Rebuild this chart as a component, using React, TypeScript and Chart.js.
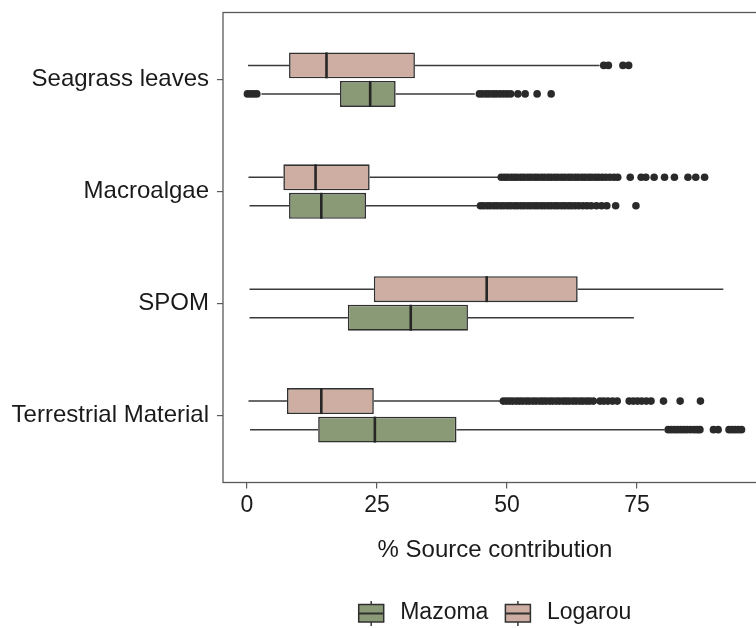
import React, { useEffect, useRef } from 'react';
import { Chart, registerables } from 'chart.js';

Chart.register(...registerables);

// ---------- data ----------
const categories = ['Seagrass leaves', 'Macroalgae', 'SPOM', 'Terrestrial Material'];
const categoryPositions = [1, 2, 3, 4];
const xTicks = [0, 25, 50, 75];
const xTitle = '% Source contribution';

// Logarou (pink)
const logarouLow = [0.2, 0.3, 0.5, 0.3];
const logarouQ1 = [8.1, 7.0, 24.4, 7.7];
const logarouMedian = [15.3, 13.2, 46.1, 14.3];
const logarouQ3 = [32.3, 23.6, 63.6, 24.4];
const logarouHigh = [67.8, 48.4, 91.6, 48.8];
const logarouOutSeagrass = [68.6, 69.5, 72.3, 73.4];
const logarouOutMacroalgae = [
  48.9, 49.5, 50.1, 50.8, 51.4, 52.0, 52.7, 53.3, 54.0, 54.6, 55.3, 55.9, 56.6, 57.2, 57.9,
  58.5, 59.2, 59.8, 60.5, 61.1, 61.8, 62.4, 63.1, 63.7, 64.4, 65.0, 65.7, 66.3, 67.0, 67.6,
  68.3, 69.0, 69.8, 70.6, 71.3, 73.7, 75.8, 76.7, 78.3, 80.3, 82.2, 84.8, 86.3, 88.0,
];
const logarouOutSPOM: number[] = [];
const logarouOutTerrestrial = [
  49.3, 49.9, 50.5, 51.1, 51.8, 52.4, 53.0, 53.7, 54.3, 55.0, 55.6, 56.3, 56.9, 57.5, 58.2,
  58.8, 59.5, 60.1, 60.8, 61.4, 62.0, 62.7, 63.3, 64.0, 64.6, 65.3, 65.9, 66.6, 67.9, 68.6,
  69.4, 70.3, 71.2, 73.5, 74.3, 75.1, 75.9, 76.8, 77.7, 80.1, 83.3, 87.2,
];

// Mazoma (green)
const mazomaLow = [2.8, 0.5, 0.5, 0.6];
const mazomaQ1 = [17.9, 8.1, 19.4, 13.7];
const mazomaMedian = [23.7, 14.3, 31.5, 24.6];
const mazomaQ3 = [28.6, 22.9, 42.5, 40.3];
const mazomaHigh = [43.8, 44.4, 74.4, 80.3];
const mazomaOutSeagrass = [
  0.1, 0.7, 1.3, 1.9, 44.7, 45.3, 46.0, 46.6, 47.3, 47.9, 48.6, 49.3, 50.0, 50.7, 52.1, 53.5,
  55.8, 58.5,
];
const mazomaOutMacroalgae = [
  44.9, 45.5, 46.2, 46.8, 47.5, 48.1, 48.8, 49.4, 50.1, 50.7, 51.4, 52.0, 52.7, 53.3, 54.0,
  54.6, 55.3, 55.9, 56.6, 57.2, 57.9, 58.5, 59.2, 59.8, 60.5, 61.1, 61.8, 62.4, 63.1, 63.8,
  64.6, 65.4, 66.2, 67.2, 68.2, 69.2, 70.9, 74.8,
];
const mazomaOutSPOM: number[] = [];
const mazomaOutTerrestrial = [
  81.0, 81.6, 82.2, 82.8, 83.4, 84.0, 84.6, 85.3, 86.0, 86.6, 87.1, 89.7, 90.6, 92.7, 93.3,
  93.9, 94.5, 95.1,
];

const seriesNames = ['Logarou', 'Mazoma'];
const legendOrder = ['Mazoma', 'Logarou'];

// ---------- styles ----------
const FONT = '"Liberation Sans", Arial, Helvetica, sans-serif';
const TEXT = '#1a1a1a';
const AXIS = '#5a5a5a';
const EDGE = '#303030';
const COLORS: Record<string, string> = { Logarou: '#ceaea2', Mazoma: '#8a9a76' };

const series = [
  {
    name: seriesNames[0],
    low: logarouLow, q1: logarouQ1, median: logarouMedian, q3: logarouQ3, high: logarouHigh,
    outliers: [logarouOutSeagrass, logarouOutMacroalgae, logarouOutSPOM, logarouOutTerrestrial],
  },
  {
    name: seriesNames[1],
    low: mazomaLow, q1: mazomaQ1, median: mazomaMedian, q3: mazomaQ3, high: mazomaHigh,
    outliers: [mazomaOutSeagrass, mazomaOutMacroalgae, mazomaOutSPOM, mazomaOutTerrestrial],
  },
];

const boxPlugin = {
  id: 'boxExtras',
  beforeDatasetsDraw(chart: any) {
    const ctx = chart.ctx;
    const xs = chart.scales.x;
    ctx.save();
    ctx.strokeStyle = '#3a3a3a';
    ctx.lineWidth = 1.5;
    series.forEach((s, d) => {
      const meta = chart.getDatasetMeta(d);
      meta.data.forEach((bar: any, i: number) => {
        const y = bar.y;
        ctx.beginPath();
        ctx.moveTo(xs.getPixelForValue(s.low[i]), y);
        ctx.lineTo(xs.getPixelForValue(s.q1[i]), y);
        ctx.moveTo(xs.getPixelForValue(s.q3[i]), y);
        ctx.lineTo(xs.getPixelForValue(s.high[i]), y);
        ctx.stroke();
      });
    });
    ctx.restore();
  },
  afterDatasetsDraw(chart: any) {
    const ctx = chart.ctx;
    const xs = chart.scales.x;
    ctx.save();
    series.forEach((s, d) => {
      const meta = chart.getDatasetMeta(d);
      meta.data.forEach((bar: any, i: number) => {
        const y = bar.y;
        const h = bar.height;
        const mx = xs.getPixelForValue(s.median[i]);
        ctx.strokeStyle = '#262626';
        ctx.lineWidth = 2.6;
        ctx.beginPath();
        ctx.moveTo(mx, y - h / 2);
        ctx.lineTo(mx, y + h / 2);
        ctx.stroke();
        ctx.fillStyle = '#2a2a2a';
        s.outliers[i].forEach((v) => {
          ctx.beginPath();
          ctx.arc(xs.getPixelForValue(v), y, 3.8, 0, Math.PI * 2);
          ctx.fill();
        });
      });
    });
    ctx.restore();
  },
  afterDraw(chart: any) {
    const ctx = chart.ctx;
    const a = chart.chartArea;
    ctx.save();
    // panel border
    ctx.strokeStyle = AXIS;
    ctx.lineWidth = 1.3;
    ctx.strokeRect(a.left, a.top, a.right - a.left, a.bottom - a.top);

    // legend
    ctx.font = `23px ${FONT}`;
    ctx.textBaseline = 'middle';
    const keyW = 25;
    const keyGap = 16.5;
    const itemGap = 17;
    const widths = legendOrder.map((n) => ctx.measureText(n).width);
    const total =
      widths.reduce((acc, w) => acc + keyW + keyGap + w, 0) + itemGap * (legendOrder.length - 1);
    let x = (a.left + a.right) / 2 - total / 2;
    const cy = 613;
    legendOrder.forEach((name, k) => {
      const cx = x + keyW / 2;
      ctx.strokeStyle = '#3a3a3a';
      ctx.lineWidth = 1.5;
      ctx.beginPath();
      ctx.moveTo(cx, cy - 12);
      ctx.lineTo(cx, cy + 13);
      ctx.stroke();
      ctx.fillStyle = COLORS[name];
      ctx.fillRect(x, cy - 8.5, keyW, 17.5);
      ctx.strokeStyle = EDGE;
      ctx.strokeRect(x, cy - 8.5, keyW, 17.5);
      ctx.lineWidth = 2;
      ctx.beginPath();
      ctx.moveTo(x, cy + 0.5);
      ctx.lineTo(x + keyW, cy + 0.5);
      ctx.stroke();
      ctx.fillStyle = TEXT;
      ctx.textAlign = 'left';
      ctx.fillText(name, x + keyW + keyGap, cy);
      x += keyW + keyGap + widths[k] + itemGap;
    });
    ctx.restore();
  },
};

export default function App() {
  const ref = useRef<HTMLCanvasElement>(null);

  useEffect(() => {
    document.body.style.margin = '0';
    const canvas = ref.current;
    if (!canvas) return;
    const chart = new Chart(canvas, {
      type: 'bar',
      data: {
        datasets: series.map((s) => ({
          label: s.name,
          data: categoryPositions.map((p, i) => ({ y: p, x: [s.q1[i], s.q3[i]] })),
          backgroundColor: COLORS[s.name],
          borderColor: EDGE,
          borderWidth: 1.6,
          borderSkipped: false,
          categoryPercentage: 0.51,
          barPercentage: 0.91,
        })) as any,
      },
      options: {
        indexAxis: 'y',
        responsive: false,
        animation: false,
        devicePixelRatio: 1,
        layout: { padding: { top: 12.5, right: 1, bottom: 0, left: 0 } },
        plugins: {
          legend: { display: false },
          tooltip: { enabled: false },
        },
        scales: {
          y: {
            type: 'linear',
            reverse: true,
            min: 0.4,
            max: 4.6,
            offset: false,
            afterBuildTicks: (scale: any) => {
              scale.ticks = categoryPositions.map((v) => ({ value: v }));
            },
            afterFit: (scale: any) => {
              scale.width = 223;
              scale.paddingTop = 0;
              scale.paddingBottom = 0;
            },
            ticks: {
              callback: (v: any) => {
                const idx = categoryPositions.indexOf(Number(v));
                return idx >= 0 ? categories[idx] : '';
              },
              font: { family: FONT, size: 24 },
              color: TEXT,
              padding: 8,
            },
            grid: {
              offset: false,
              drawOnChartArea: false,
              drawTicks: true,
              tickLength: 6,
              color: AXIS,
              lineWidth: 1.2,
            },
            border: { display: false },
          },
          x: {
            type: 'linear',
            min: -4.6,
            max: 100,
            afterBuildTicks: (scale: any) => {
              scale.ticks = xTicks.map((v) => ({ value: v }));
            },
            afterFit: (scale: any) => {
              scale.height = 628 - 482.5;
              scale.paddingLeft = 0;
              scale.paddingRight = 0;
            },
            ticks: {
              callback: (v: any) => String(v),
              font: { family: FONT, size: 23 },
              color: TEXT,
              padding: 3,
              maxRotation: 0,
            },
            grid: {
              drawOnChartArea: false,
              drawTicks: true,
              tickLength: 6,
              color: AXIS,
              lineWidth: 1.2,
            },
            border: { display: false },
            title: {
              display: true,
              text: xTitle,
              font: { family: FONT, size: 24 },
              color: TEXT,
              padding: { top: 0, bottom: 63.6 },
            },
          },
        },
      } as any,
      plugins: [boxPlugin],
    });
    return () => chart.destroy();
  }, []);

  return (
    <div style={{ width: 756, height: 628, overflow: 'hidden', position: 'relative' }}>
      <canvas ref={ref} width={768} height={628} style={{ display: 'block' }} />
    </div>
  );
}
